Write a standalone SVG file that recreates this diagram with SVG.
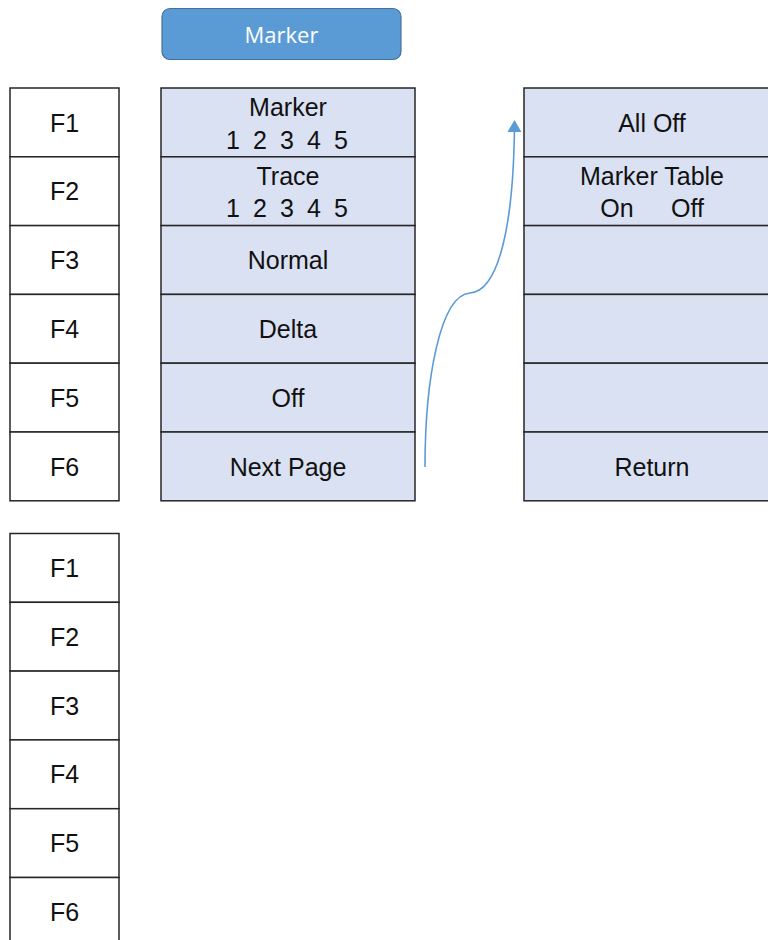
<svg xmlns="http://www.w3.org/2000/svg" width="768" height="940" viewBox="0 0 768 940">
<style>
.key{fill:#ffffff;stroke:#262626;stroke-width:1.5}
.cell{fill:#dae1f3;stroke:#262626;stroke-width:1.5}
.t{font-family:"Liberation Sans",Arial,sans-serif;font-size:25px;fill:#111111;text-anchor:middle}
.btn{fill:#5b9bd5;stroke:#41719c;stroke-width:1.2}
.bt{font-family:"Open Sans","Liberation Sans",sans-serif;font-size:22px;fill:#ffffff;text-anchor:middle}
.conn{fill:none;stroke:#5b9bd5;stroke-width:1.6}
</style>
<defs>
<marker id="ah" viewBox="0 0 12 14" refX="10" refY="7" markerWidth="12" markerHeight="14" markerUnits="userSpaceOnUse" orient="auto">
<path d="M0,0 L12,7 L0,14 z" fill="#5b9bd5"/>
</marker>
</defs>
<rect width="768" height="940" fill="#ffffff"/>

<g id="title">
<rect class="btn" x="162" y="8.5" width="239" height="51" rx="8"/>
<text class="bt" x="281.5" y="42.5">Marker</text>
</g>

<g id="keys-top">
<rect class="key" x="10" y="88" width="109" height="68.8"/><text class="t" x="64.5" y="131.5">F1</text>
<rect class="key" x="10" y="156.8" width="109" height="68.8"/><text class="t" x="64.5" y="200.3">F2</text>
<rect class="key" x="10" y="225.6" width="109" height="68.8"/><text class="t" x="64.5" y="269.1">F3</text>
<rect class="key" x="10" y="294.4" width="109" height="68.8"/><text class="t" x="64.5" y="337.9">F4</text>
<rect class="key" x="10" y="363.2" width="109" height="68.8"/><text class="t" x="64.5" y="406.7">F5</text>
<rect class="key" x="10" y="432" width="109" height="68.8"/><text class="t" x="64.5" y="475.5">F6</text>
</g>

<g id="menu-page1">
<rect class="cell" x="161" y="88" width="254" height="68.8"/>
<text class="t" x="288" y="116">Marker</text>
<text class="t" y="148.5"><tspan x="233">1</tspan><tspan x="260">2</tspan><tspan x="287">3</tspan><tspan x="314">4</tspan><tspan x="341">5</tspan></text>
<rect class="cell" x="161" y="156.8" width="254" height="68.8"/>
<text class="t" x="288" y="185">Trace</text>
<text class="t" y="217"><tspan x="233">1</tspan><tspan x="260">2</tspan><tspan x="287">3</tspan><tspan x="314">4</tspan><tspan x="341">5</tspan></text>
<rect class="cell" x="161" y="225.6" width="254" height="68.8"/><text class="t" x="288" y="269.1">Normal</text>
<rect class="cell" x="161" y="294.4" width="254" height="68.8"/><text class="t" x="288" y="337.9">Delta</text>
<rect class="cell" x="161" y="363.2" width="254" height="68.8"/><text class="t" x="288" y="406.7">Off</text>
<rect class="cell" x="161" y="432" width="254" height="68.8"/><text class="t" x="288" y="475.5">Next Page</text>
</g>

<g id="menu-page2">
<rect class="cell" x="524" y="88" width="254" height="68.8"/><text class="t" x="652" y="131.5">All Off</text>
<rect class="cell" x="524" y="156.8" width="254" height="68.8"/>
<text class="t" x="652" y="184.5">Marker Table</text>
<text class="t" y="217"><tspan x="617">On</tspan><tspan x="687.5">Off</tspan></text>
<rect class="cell" x="524" y="225.6" width="254" height="68.8"/>
<rect class="cell" x="524" y="294.4" width="254" height="68.8"/>
<rect class="cell" x="524" y="363.2" width="254" height="68.8"/>
<rect class="cell" x="524" y="432" width="254" height="68.8"/><text class="t" x="652" y="475.5">Return</text>
</g>

<g id="keys-bottom">
<rect class="key" x="10" y="533.5" width="109" height="68.8"/><text class="t" x="64.5" y="577">F1</text>
<rect class="key" x="10" y="602.3" width="109" height="68.8"/><text class="t" x="64.5" y="645.8">F2</text>
<rect class="key" x="10" y="671.1" width="109" height="68.8"/><text class="t" x="64.5" y="714.6">F3</text>
<rect class="key" x="10" y="739.9" width="109" height="68.8"/><text class="t" x="64.5" y="783.4">F4</text>
<rect class="key" x="10" y="808.7" width="109" height="68.8"/><text class="t" x="64.5" y="852.2">F5</text>
<rect class="key" x="10" y="877.5" width="109" height="68.8"/><text class="t" x="64.5" y="921">F6</text>
</g>

<g id="connectors">
<path class="conn" d="M425,467 C425,380 440,295 470,293 C500,291 514,220 514.5,122" marker-end="url(#ah)"/>
</g>
</svg>
